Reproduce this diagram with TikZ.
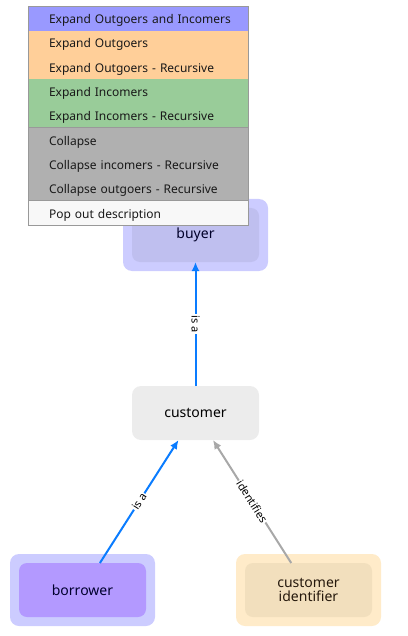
\documentclass[tikz,border=0pt]{standalone}
\usepackage{fontspec}
\setmainfont{Noto Sans}
\usetikzlibrary{positioning, arrows.meta, fit, backgrounds}
\definecolor{menuBlue}{HTML}{9999FF}
\definecolor{menuOrange}{HTML}{FFCF99}
\definecolor{menuGreen}{HTML}{99CC99}
\definecolor{menuGrey}{HTML}{B0B0B0}
\definecolor{menuWhite}{HTML}{F8F8F8}
\definecolor{menuBorder}{HTML}{999999}
\definecolor{buyerOuter}{HTML}{CCCCFF}
\definecolor{buyerInner}{HTML}{BFBFEF}
\definecolor{borrowerInner}{HTML}{B399FF}
\definecolor{custIdOuter}{HTML}{FFEBC9}
\definecolor{custIdInner}{HTML}{F2DFBD}
\definecolor{customerGrey}{HTML}{ECECEC}
\definecolor{isaBlue}{HTML}{0A7CFF}
\definecolor{idGrey}{HTML}{A8A8A8}
\tikzstyle{concept} =[minimum width=127pt, minimum height=54pt, inner sep=0pt, outer sep=0pt, rounded corners=8pt, font=\fontsize{14}{14}\selectfont]
\tikzstyle{menuitem} =[minimum height=24.3pt, text width=220pt, text height=13pt, text depth=3pt, inner xsep=0pt, inner ysep=0pt, outer sep=0pt, align=left, text=black!90, font=\fontsize{12}{14}\selectfont, execute at begin node={\hspace*{21pt}}]
\tikzstyle{edgelabel} =[fill=white, inner sep=1pt, text=black, font=\fontsize{11}{11}\selectfont]

\begin{document}
\begin{tikzpicture}[x=1pt, y=-1pt]
\useasboundingbox (0,0) rectangle (407,636);

\node (buyer) [concept, fill=buyerInner, text=black!60!blue!40!black] at (195.5,235) {buyer};
\node (customer) [concept, fill=customerGrey, rounded corners=9pt, below=124pt of buyer] {customer};
\node (borrower) [concept, fill=borrowerInner, text=black!70!blue!60!black, below left=123pt and -14pt of customer] {borrower};
\node (custId) [concept, fill=custIdInner, text=black!80!brown, align=center, below right=123pt and -14pt of customer] {customer\\identifier};

\begin{scope}[on background layer]
\node (buyerBox) [fit=(buyer), inner sep=9pt, fill=buyerOuter, rounded corners=9pt] {};
\node (borrowerBox) [fit=(borrower), inner sep=9pt, fill=buyerOuter, rounded corners=9pt] {};
\node (custIdBox) [fit=(custId), inner sep=9pt, fill=custIdOuter, rounded corners=9pt] {};
\end{scope}

\draw[-{Latex[length=9pt, width=8pt]}, line width=2pt, isaBlue]
	(customer) edge
		node [edgelabel, rotate=-90] {is a}
	(buyer);

\draw[-{Latex[length=9pt, width=8pt]}, line width=2pt, isaBlue]
	([xshift=17.4pt]borrower.north) --
		node [edgelabel, sloped] {is a}
	([xshift=-17pt]customer.south);

\draw[-{Latex[length=9pt, width=8pt]}, line width=2pt, idGrey]
	([xshift=-17.3pt]custId.north) --
		node [edgelabel, sloped] {identifies}
	([xshift=17.5pt]customer.south);

% context menu
\node (menuBoth) [menuitem, fill=menuBlue, anchor=north west] at (28,6.5) {Expand Outgoers and Incomers};
\node (menuOut) [menuitem, fill=menuOrange, below=0pt of menuBoth] {Expand Outgoers};
\node (menuOutRec) [menuitem, fill=menuOrange, below=0pt of menuOut] {Expand Outgoers - Recursive};
\node (menuIn) [menuitem, fill=menuGreen, below=0pt of menuOutRec] {Expand Incomers};
\node (menuInRec) [menuitem, fill=menuGreen, below=0pt of menuIn] {Expand Incomers - Recursive};
\node (menuCollapse) [menuitem, fill=menuGrey, below=0pt of menuInRec] {Collapse};
\node (menuCollIn) [menuitem, fill=menuGrey, below=0pt of menuCollapse] {Collapse incomers - Recursive};
\node (menuCollOut) [menuitem, fill=menuGrey, below=0pt of menuCollIn] {Collapse outgoers - Recursive};
\node (menuPopOut) [menuitem, fill=menuWhite, below=0pt of menuCollOut] {Pop out description};

\draw[menuBorder, line width=1pt] (menuCollapse.north west) -- (menuCollapse.north east);
\draw[menuBorder, line width=1pt] (menuPopOut.north west) -- (menuPopOut.north east);
\node (menuFrame) [fit=(menuBoth)(menuPopOut), inner sep=0pt, draw=menuBorder, line width=1pt] {};

\end{tikzpicture}
\end{document}
